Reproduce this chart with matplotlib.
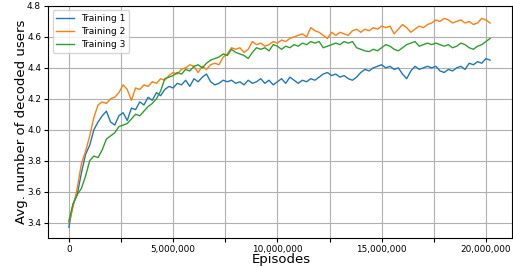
import numpy as np
import matplotlib
matplotlib.use("Agg")
import matplotlib.pyplot as plt
from matplotlib.ticker import MultipleLocator, FuncFormatter

# Episodes sampled every 200,000
episodes = np.arange(102) * 200000

training_1 = [3.37, 3.52, 3.58, 3.72, 3.84, 3.90, 4.00, 4.05, 4.09, 4.12,
              4.05, 4.03, 4.09, 4.11, 4.06, 4.14, 4.13, 4.18, 4.16, 4.21,
              4.19, 4.24, 4.22, 4.26, 4.28, 4.27, 4.30, 4.29, 4.32, 4.28,
              4.33, 4.31, 4.34, 4.36, 4.31, 4.29, 4.30, 4.32, 4.31, 4.32,
              4.30, 4.31, 4.29, 4.32, 4.30, 4.31, 4.33, 4.30, 4.32, 4.29,
              4.31, 4.33, 4.30, 4.34, 4.32, 4.30, 4.32, 4.31, 4.33, 4.32,
              4.34, 4.36, 4.37, 4.35, 4.36, 4.34, 4.35, 4.33, 4.32, 4.34,
              4.37, 4.39, 4.38, 4.40, 4.41, 4.42, 4.40, 4.41, 4.39, 4.40,
              4.36, 4.33, 4.38, 4.41, 4.39, 4.40, 4.41, 4.40, 4.41, 4.38,
              4.37, 4.39, 4.38, 4.40, 4.41, 4.39, 4.43, 4.42, 4.44, 4.43,
              4.46, 4.45]

training_2 = [3.40, 3.50, 3.62, 3.78, 3.86, 3.96, 4.08, 4.16, 4.18, 4.17,
              4.20, 4.21, 4.24, 4.29, 4.26, 4.19, 4.27, 4.26, 4.29, 4.28,
              4.31, 4.30, 4.33, 4.32, 4.35, 4.37, 4.36, 4.39, 4.40, 4.42,
              4.41, 4.37, 4.41, 4.39, 4.42, 4.43, 4.42, 4.47, 4.49, 4.53,
              4.52, 4.53, 4.50, 4.52, 4.57, 4.55, 4.56, 4.54, 4.55, 4.57,
              4.56, 4.58, 4.57, 4.59, 4.60, 4.61, 4.62, 4.60, 4.66, 4.64,
              4.63, 4.61, 4.59, 4.63, 4.61, 4.63, 4.62, 4.61, 4.64, 4.65,
              4.63, 4.65, 4.64, 4.66, 4.65, 4.67, 4.66, 4.67, 4.62, 4.65,
              4.68, 4.66, 4.63, 4.65, 4.67, 4.66, 4.68, 4.69, 4.71, 4.70,
              4.72, 4.71, 4.69, 4.70, 4.71, 4.69, 4.70, 4.68, 4.69, 4.72,
              4.71, 4.69]

training_3 = [3.41, 3.52, 3.58, 3.62, 3.70, 3.80, 3.83, 3.82, 3.87, 3.94,
              3.96, 3.98, 4.02, 4.03, 4.04, 4.07, 4.10, 4.09, 4.12, 4.15,
              4.17, 4.20, 4.25, 4.33, 4.34, 4.35, 4.37, 4.36, 4.39, 4.38,
              4.41, 4.42, 4.40, 4.43, 4.45, 4.46, 4.47, 4.49, 4.48, 4.52,
              4.50, 4.49, 4.48, 4.46, 4.50, 4.53, 4.52, 4.53, 4.51, 4.55,
              4.54, 4.52, 4.54, 4.53, 4.55, 4.54, 4.56, 4.55, 4.57, 4.56,
              4.57, 4.53, 4.54, 4.55, 4.56, 4.55, 4.57, 4.56, 4.57, 4.53,
              4.52, 4.51, 4.505, 4.52, 4.51, 4.53, 4.55, 4.54, 4.52, 4.51,
              4.53, 4.55, 4.56, 4.57, 4.54, 4.55, 4.56, 4.55, 4.56, 4.55,
              4.54, 4.55, 4.53, 4.54, 4.56, 4.55, 4.53, 4.52, 4.54, 4.55,
              4.57, 4.59]

series = [("Training 1", training_1), ("Training 2", training_2), ("Training 3", training_3)]
colors = ["#1f77b4", "#ff7f0e", "#2ca02c"]

fig = plt.figure(figsize=(5.13, 2.67), dpi=100)
ax = fig.add_axes([0.0936, 0.1086, 0.9044, 0.869])

for (name, vals), c in zip(series, colors):
    ax.plot(episodes, vals, color=c, lw=1.0, label=name)

ax.set_xlim(-1.0e6, 21.25e6)
ax.set_ylim(3.30, 4.80)
ax.xaxis.set_major_locator(MultipleLocator(5e6))
ax.xaxis.set_minor_locator(MultipleLocator(2.5e6))
ax.yaxis.set_major_locator(MultipleLocator(0.2))
ax.xaxis.set_major_formatter(FuncFormatter(lambda v, p: f"{int(round(v)):,}"))
ax.grid(True, which="both", axis="x", color="#b0b0b0", lw=0.8)
ax.grid(True, which="major", axis="y", color="#b0b0b0", lw=0.8)
ax.tick_params(labelsize=6.4, width=0.8, length=3, pad=2.0)
ax.tick_params(which="minor", length=3, width=0.8)

ax.set_xlabel("Episodes", fontsize=9.5)
ax.set_ylabel("Avg. number of decoded users", fontsize=9.5)
ax.xaxis.set_label_coords(0.503, -0.064)
ax.yaxis.set_label_coords(-0.044, 0.5)

ax.legend(loc="upper left", fontsize=6.5, handlelength=2.0, borderpad=0.4,
          labelspacing=0.45, framealpha=0.8)

fig.savefig("out.png", dpi=100)
